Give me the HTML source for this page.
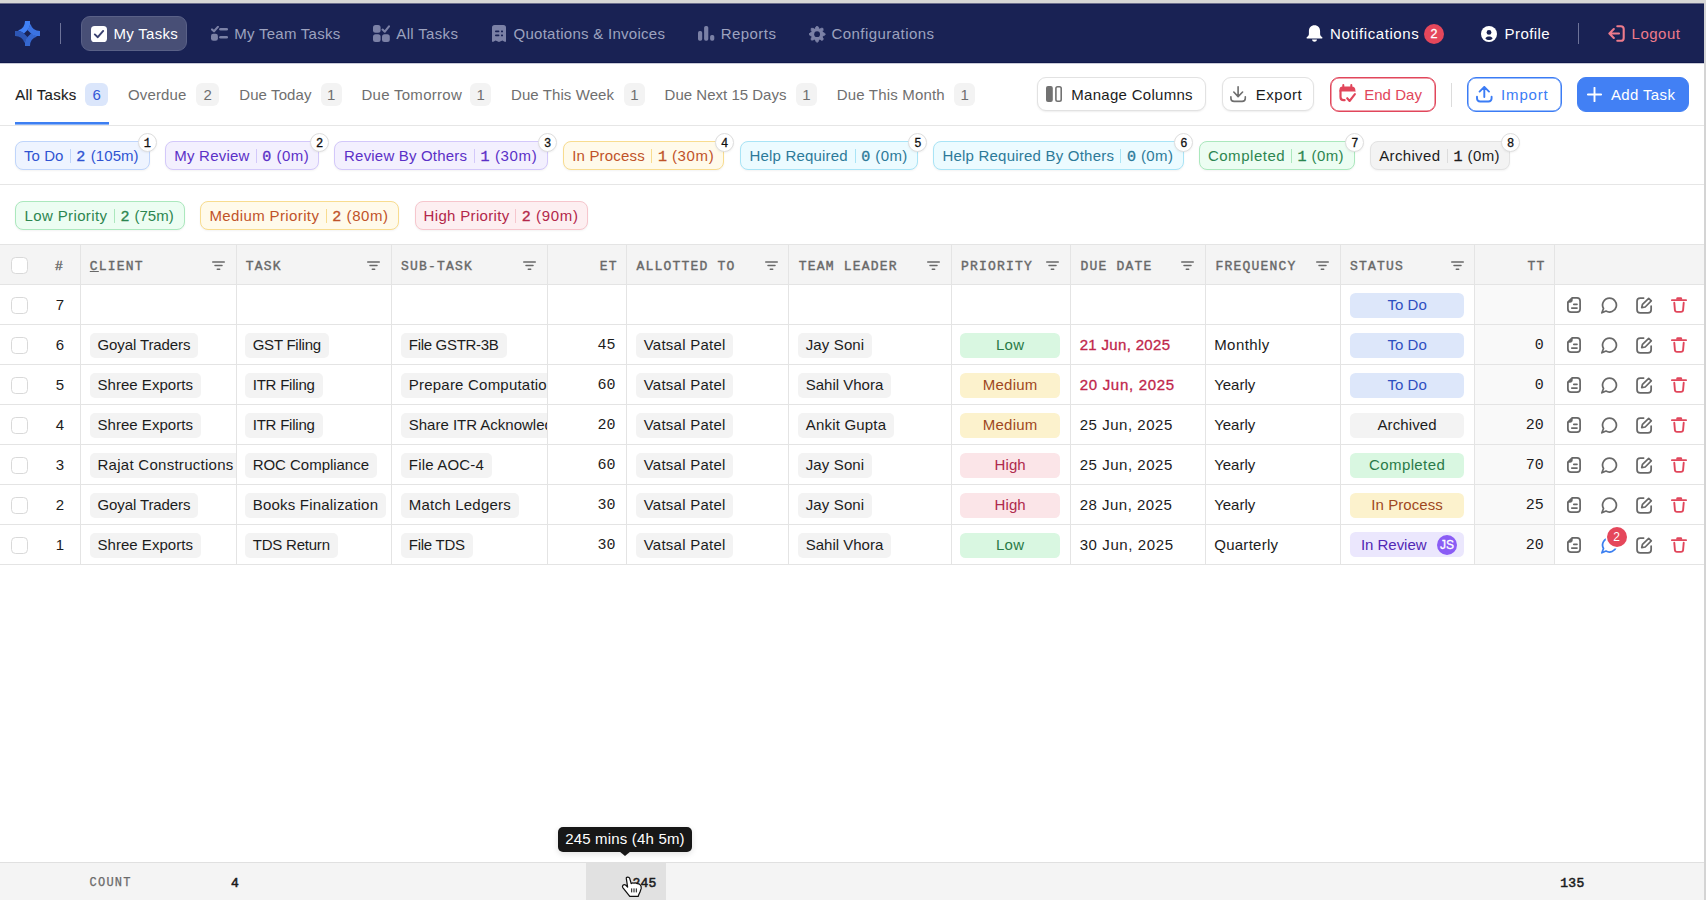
<!DOCTYPE html>
<html lang="en"><head><meta charset="utf-8"><title>My Tasks</title>
<style>
*{box-sizing:border-box;margin:0;padding:0}
html,body{width:1706px;height:900px;overflow:hidden;background:#d4d4d4}
body{font-family:"Liberation Sans",sans-serif;font-size:15px;color:#1c1c1c;position:relative}
.mono{font-family:"Liberation Mono",monospace}
#app{position:absolute;left:0;top:0;width:1704px;height:900px;background:#fff;overflow:hidden}
.abs{position:absolute}
svg{display:block}
.topstrip{position:absolute;left:0;top:0;width:1706px;height:3px;background:#d7d7d6}
.topblend{position:absolute;left:0;top:3px;width:1704px;height:1px;background:#6b6e8c}
nav{position:absolute;left:0;top:4px;width:1704px;height:59px;background:#192254;border-top:1px solid #141c50;border-bottom:1px solid #10184b}
.navblend{position:absolute;left:0;top:63px;width:1704px;height:1px;background:#c9cbd8}
nav .it{position:absolute;top:0;height:57px;line-height:57px;white-space:nowrap;color:#9da2bf}
nav .ic{position:absolute}
nav .vdiv{position:absolute;top:18px;height:21px;width:1px;background:#6d7399}
nav .pill{position:absolute;left:81px;top:11px;width:106px;height:35px;border-radius:9px;background:#484f76;border:1px solid #5a6187}
nav .badge{position:absolute;width:20px;height:20px;border-radius:50%;background:#e5475b;color:#fff;font-size:12.5px;line-height:20px;text-align:center;-webkit-text-stroke:0.3px #fff}
.tabs{position:absolute;left:0;top:64px;width:1704px;height:62px;border-bottom:1px solid #e6e6e6}
.tabs .t{position:absolute;top:0;height:61px;line-height:61px;color:#6f6f6f;white-space:nowrap}
.tabs .t.on{color:#1c1c1c;-webkit-text-stroke:0.15px #1c1c1c}
.tabs .b{position:absolute;top:19px;height:23px;border-radius:6px;background:#f3f3f3;color:#6f6f6f;text-align:center;line-height:23px;font-size:15px}
.tabs .b.on{background:#dbe6fb;color:#3557d6}
.tabs .ul{position:absolute;left:15px;top:58px;width:93.5px;height:3px;background:linear-gradient(#3d7ff2 0,#3d7ff2 2px,#8db4f7 2px,#8db4f7 3px)}
.btn{position:absolute;top:13px;height:34px;border-radius:9px;border:1px solid #e2e2e2;background:#fff;box-shadow:0 1px 2px rgba(0,0,0,.07);white-space:nowrap}
.btn .tx{position:absolute;top:0;line-height:33px}
.btn .ic{position:absolute}
.chips{position:absolute;left:0;width:1704px;height:60px;border-bottom:1px solid #e6e6e6}
.chip{position:absolute;top:16px;height:29px;border-radius:8px;border:1px solid;box-shadow:0 1px 2px rgba(0,0,0,.05);white-space:nowrap}
.chip span{position:absolute;top:0;line-height:27px}
.chip i{position:absolute;top:7px;width:1px;height:14px;display:block}
.chip b{font-weight:400}
.chip .n{font-family:"Liberation Mono",monospace;-webkit-text-stroke:0.35px currentColor;top:1.5px}
.num{position:absolute;width:19px;height:19px;border-radius:50%;background:#fff;border:1px solid #dedede;box-shadow:0 1px 2px rgba(0,0,0,.06);font-family:"Liberation Mono",monospace;font-size:12px;line-height:20px;text-align:center;color:#111;-webkit-text-stroke:0.3px #111}
.c-blue{background:#eef4ff;border-color:#bfd5fb;color:#2f54d2}.c-blue i{background:#bfd5fb}
.c-purple{background:#f3f0fe;border-color:#d3c8fa;color:#5b30c7}.c-purple i{background:#d3c8fa}
.c-amber{background:#fffaea;border-color:#f8dc8f;color:#bf5329}.c-amber i{background:#f8dc8f}
.c-cyan{background:#ecfbff;border-color:#a9e4f6;color:#2c7a99}.c-cyan i{background:#a9e4f6}
.c-green{background:#ecfdf2;border-color:#abe8bd;color:#2c8650}.c-green i{background:#abe8bd}
.c-gray{background:#f3f3f3;border-color:#e3e3e3;color:#1c1c1c}.c-gray i{background:#dcdcdc}
.c-red{background:#fdeff1;border-color:#f6c6cd;color:#b3274a}.c-red i{background:#f6c6cd}
.tbl{position:absolute;left:0;top:244px;width:1704px;border-top:1px solid #e4e4e4}
.tr{position:relative;height:40px;border-bottom:1px solid #e4e4e4;width:1704px}
.th{background:#f4f4f4}
.td{position:absolute;top:0;height:39px;border-left:1px solid #e4e4e4;overflow:hidden;white-space:nowrap;line-height:39px}
.th .td{font-family:"Liberation Mono",monospace;font-size:13px;color:#686868;-webkit-text-stroke:0.4px #686868;line-height:44px}
.th .td span{position:absolute;top:0}
.th .f{position:absolute;top:16px}
.cb{position:absolute;left:11px;top:12px;width:17px;height:17px;border:1px solid #d9d9d9;border-radius:4.5px;background:#fff}
.tag{position:absolute;top:8px;height:24.5px;line-height:24.5px;border-radius:5px;background:#f3f3f3;white-space:nowrap}
.tag span{position:absolute;top:0}
.pl{position:absolute;top:8px;height:25px;line-height:24px;border-radius:5.5px;text-align:center;white-space:nowrap}
.p-low{background:#d9f7e1;color:#2a7a48}
.p-med{background:#fcf2cd;color:#9f481f}
.p-high{background:#fbe5e8;color:#af2a4c}
.s-todo{background:#dde7fa;color:#2f4fc1}
.s-arch{background:#f3f3f3;color:#1c1c1c}
.s-comp{background:#d9f7e1;color:#2a7a48}
.s-proc{background:#fcf2cd;color:#9f481f}
.s-rev{background:#ebe7fd;color:#5228b5}
.num15{font-family:"Liberation Mono",monospace;font-size:15px;line-height:42px}
.ttc{background:#f9f9f9}
.act{position:absolute}
.foot{position:absolute;left:0;top:862px;width:1704px;height:38px;background:#f4f4f4;border-top:1px solid #e0e0e0}
.foot span{position:absolute;top:0;line-height:41px;font-family:"Liberation Mono",monospace;white-space:nowrap}
.foot .fb{font-size:13px;color:#1c1c1c;-webkit-text-stroke:0.55px #1c1c1c}
.tip{position:absolute;left:558px;top:827px;width:134px;height:25px;border-radius:5px;background:#171717;color:#fff;line-height:24px;font-size:15px;white-space:nowrap;box-shadow:0 2px 6px rgba(0,0,0,.12)}
.tip span{position:absolute;top:0}
.tip:after{content:"";position:absolute;left:61px;top:24px;border:6px solid transparent;border-top:5px solid #171717;border-bottom:0}
</style></head>
<body>
<div id="app">
<nav>
<div class="ic" style="left:15px;top:16px"><svg width="25" height="25" viewBox="0 0 25 25" ><path d="M10,0 H15 V4 Q14.6,7 12.5,9 L9,12.5 Q6,10.8 3,9.54 A10,10 0 0 0 10,0 Z" fill="#4080f5" transform="rotate(0 12.5 12.5)"/><path d="M10,0 H15 V4 Q14.6,7 12.5,9 L9,12.5 Q6,10.8 3,9.54 A10,10 0 0 0 10,0 Z" fill="#2d56b4" transform="rotate(-90 12.5 12.5)"/><path d="M10,0 H15 V4 Q14.6,7 12.5,9 L9,12.5 Q6,10.8 3,9.54 A10,10 0 0 0 10,0 Z" fill="#3567cf" transform="rotate(-180 12.5 12.5)"/><path d="M10,0 H15 V4 Q14.6,7 12.5,9 L9,12.5 Q6,10.8 3,9.54 A10,10 0 0 0 10,0 Z" fill="#3b73e2" transform="rotate(-270 12.5 12.5)"/></svg></div>
<div class="vdiv" style="left:60px"></div>
<div class="pill"></div>
<div class="ic" style="left:90.5px;top:20.5px"><svg width="16" height="16" viewBox="0 0 16 16" ><rect width="16" height="16" rx="3.6" fill="#fff"/><path d="M3.8 8.4 L6.8 11.2 L12.2 4.9" fill="none" stroke="#3a4170" stroke-width="1.9" stroke-linecap="round" stroke-linejoin="round"/></svg></div>
<div class="it" style="left:113.5px;color:#fff"><span style="letter-spacing:0.295px;">My Tasks</span></div>
<div class="ic" style="left:211px;top:21.3px"><svg width="17" height="15" viewBox="0 0 17 15" ><path d="M1 3.4 L3 5.3 L6.9 0.9" fill="none" stroke="#7b81a6" stroke-width="2.1" stroke-linecap="round" stroke-linejoin="round"/><rect x="8.2" y="2" width="8.8" height="2.6" rx="1.3" fill="#7b81a6"/><rect x="0" y="7.8" width="6.9" height="7" rx="2.3" fill="#7b81a6"/><rect x="8.2" y="10" width="8.8" height="2.6" rx="1.3" fill="#7b81a6"/></svg></div>
<div class="it" style="left:234.2px"><span style="letter-spacing:0.274px;">My Team Tasks</span></div>
<div class="ic" style="left:373.3px;top:20px"><svg width="17" height="17" viewBox="0 0 17 17" ><rect x="0" y="0" width="7.6" height="7.8" rx="2.5" fill="#7b81a6"/><rect x="0" y="9.2" width="7.6" height="7.8" rx="2.5" fill="#7b81a6"/><rect x="9" y="9.2" width="7.8" height="7.8" rx="2.5" fill="#7b81a6"/><path d="M9.6 4.6 L11.8 6.7 L16 1.4" fill="none" stroke="#7b81a6" stroke-width="2.1" stroke-linecap="round" stroke-linejoin="round"/></svg></div>
<div class="it" style="left:396.3px"><span style="letter-spacing:0.335px;">All Tasks</span></div>
<div class="ic" style="left:492px;top:20px"><svg width="14" height="17" viewBox="0 0 14 17" ><path d="M2.6 0 H11.4 Q14 0 14 2.6 V16.8 L12.6 16.8 L10.4 15.4 L7 16.9 L3.6 15.4 L1.4 16.8 L0 16.8 V2.6 Q0 0 2.6 0 Z" fill="#7b81a6"/><rect x="3" y="5.6" width="4.4" height="1.7" rx="0.8" fill="#192254"/><rect x="9" y="5.6" width="2" height="1.7" rx="0.6" fill="#192254"/><rect x="3" y="9.6" width="4.4" height="1.7" rx="0.8" fill="#192254"/><rect x="9" y="9.6" width="2" height="1.7" rx="0.6" fill="#192254"/></svg></div>
<div class="it" style="left:513.5px"><span style="letter-spacing:0.274px;">Quotations &amp; Invoices</span></div>
<div class="ic" style="left:697.7px;top:21px"><svg width="17" height="15" viewBox="0 0 17 15" ><rect x="0" y="5" width="4.2" height="9.8" rx="1.7" fill="#7b81a6"/><rect x="6.1" y="0" width="4.2" height="14.8" rx="1.7" fill="#7b81a6"/><rect x="12.1" y="9.1" width="4.2" height="5.7" rx="1.7" fill="#7b81a6"/></svg></div>
<div class="it" style="left:720.8px"><span style="letter-spacing:0.428px;">Reports</span></div>
<div class="ic" style="left:809px;top:20.5px"><svg width="17" height="17" viewBox="0 0 17 17" ><path d="M6.6 1.2 L8.1 -0.1 L9.6 1.2 V15 L8.1 16.5 L6.6 15 Z" fill="#7b81a6" stroke="#7b81a6" stroke-width="0.8" stroke-linejoin="round" transform="rotate(0 8.1 8.2)"/><path d="M6.6 1.2 L8.1 -0.1 L9.6 1.2 V15 L8.1 16.5 L6.6 15 Z" fill="#7b81a6" stroke="#7b81a6" stroke-width="0.8" stroke-linejoin="round" transform="rotate(45 8.1 8.2)"/><path d="M6.6 1.2 L8.1 -0.1 L9.6 1.2 V15 L8.1 16.5 L6.6 15 Z" fill="#7b81a6" stroke="#7b81a6" stroke-width="0.8" stroke-linejoin="round" transform="rotate(90 8.1 8.2)"/><path d="M6.6 1.2 L8.1 -0.1 L9.6 1.2 V15 L8.1 16.5 L6.6 15 Z" fill="#7b81a6" stroke="#7b81a6" stroke-width="0.8" stroke-linejoin="round" transform="rotate(135 8.1 8.2)"/><circle cx="8.1" cy="8.2" r="6.2" fill="#7b81a6"/><circle cx="8.1" cy="8.2" r="2.9" fill="#192254"/></svg></div>
<div class="it" style="left:831.4px"><span style="letter-spacing:0.459px;">Configurations</span></div>
<div class="ic" style="left:1306.2px;top:20px"><svg width="17" height="17" viewBox="0 0 17 17" ><path d="M8.5 0.3 C5 0.3 2.9 2.9 2.9 6.2 V9 C2.9 10.4 2 11.2 1 12 C0.2 12.6 0.5 13.6 1.5 13.6 H15.5 C16.5 13.6 16.8 12.6 16 12 C15 11.2 14.1 10.4 14.1 9 V6.2 C14.1 2.9 12 0.3 8.5 0.3 Z" fill="#fff"/><path d="M6 14.6 H11 C10.7 16 9.8 16.8 8.5 16.8 C7.2 16.8 6.3 16 6 14.6 Z" fill="#fff"/></svg></div>
<div class="it" style="left:1330px;color:#fff"><span style="letter-spacing:0.583px;">Notifications</span></div>
<div class="badge" style="left:1424px;top:18.6px">2</div>
<div class="ic" style="left:1481.4px;top:20.5px"><svg width="16" height="16" viewBox="0 0 16 16" ><circle cx="8" cy="8" r="8" fill="#fff"/><circle cx="8" cy="6.4" r="2.4" fill="#192254"/><path d="M4.4 12.4 C5 11 6.3 10.5 8 10.5 C9.7 10.5 11 11 11.6 12.4 C10.6 13.4 9.4 13.9 8 13.9 C6.6 13.9 5.4 13.4 4.4 12.4 Z" fill="#192254"/></svg></div>
<div class="it" style="left:1504.5px;color:#fff"><span style="letter-spacing:0.445px;">Profile</span></div>
<div class="vdiv" style="left:1578px"></div>
<div class="ic" style="left:1608.2px;top:20px"><svg width="17" height="17" viewBox="0 0 17 17" ><path d="M9.3 1.2 H12.8 Q15.7 1.2 15.7 4.1 V12.9 Q15.7 15.8 12.8 15.8 H9.3" fill="none" stroke="#ee7b8b" stroke-width="2.1" stroke-linecap="round"/><path d="M11 8.5 H1.8 M5.8 4.1 L1.4 8.5 L5.8 12.9" fill="none" stroke="#ee7b8b" stroke-width="2.1" stroke-linecap="round" stroke-linejoin="round"/></svg></div>
<div class="it" style="left:1631.6px;color:#ee7b8b"><span style="letter-spacing:0.482px;">Logout</span></div>
</nav>
<div class="navblend"></div>
<div class="tabs">
<div class="t on" style="left:15.2px"><span style="letter-spacing:0.272px;">All Tasks</span></div>
<div class="b on" style="left:85px;width:23.4px">6</div>
<div class="t" style="left:127.9px"><span style="letter-spacing:0.159px;">Overdue</span></div>
<div class="b" style="left:196px;width:23.3px">2</div>
<div class="t" style="left:239.2px"><span style="letter-spacing:0.106px;">Due Today</span></div>
<div class="b" style="left:320.9px;width:20.8px">1</div>
<div class="t" style="left:361.4px"><span style="letter-spacing:0.285px;">Due Tomorrow</span></div>
<div class="b" style="left:470.4px;width:20.8px">1</div>
<div class="t" style="left:511px"><span style="letter-spacing:0.083px;">Due This Week</span></div>
<div class="b" style="left:624px;width:20.8px">1</div>
<div class="t" style="left:664.6px"><span style="letter-spacing:0.011px;">Due Next 15 Days</span></div>
<div class="b" style="left:796px;width:20.9px">1</div>
<div class="t" style="left:836.7px"><span style="letter-spacing:0.184px;">Due This Month</span></div>
<div class="b" style="left:954.3px;width:20.9px">1</div>
<div class="ul"></div>
<div class="btn" style="left:1037px;width:168.5px;"><div class="ic" style="left:8px;top:8px"><svg width="16" height="16" viewBox="0 0 16 16" ><rect x="0" y="0" width="6.8" height="16" rx="2" fill="#727272"/><rect x="9.9" y="0.8" width="5.3" height="14.4" rx="1.7" fill="none" stroke="#727272" stroke-width="1.6"/></svg></div><div class="tx" style="left:33.299999999999955px;color:#1c1c1c"><span style="letter-spacing:0.287px;">Manage Columns</span></div></div>
<div class="btn" style="left:1221.5px;width:92.5px;"><div class="ic" style="left:7.7999999999999545px;top:7.5px"><svg width="17" height="17" viewBox="0 0 17 17" ><path d="M8.1 0.8 V10.6 M3.8 6 L8.1 10.6 L12.6 6" fill="none" stroke="#6e6e6e" stroke-width="1.6" stroke-linecap="round" stroke-linejoin="round"/><path d="M0.9 10.8 V12.2 Q0.9 15.4 4.1 15.4 H12.1 Q15.3 15.4 15.3 12.2 V10.8" fill="none" stroke="#6e6e6e" stroke-width="1.6" stroke-linecap="round"/></svg></div><div class="tx" style="left:33.299999999999955px;color:#1c1c1c"><span style="letter-spacing:0.508px;">Export</span></div></div>
<div class="btn" style="left:1329.5px;width:106.5px;border-color:#e1465b;box-shadow:inset 0 0 0 0.5px #e1465b;height:35px"><div class="ic" style="left:8.099999999999909px;top:6px"><svg width="18" height="19" viewBox="0 0 18 19" ><path d="M3.8 2.6 H12.6 Q16.4 2.6 16.4 6.4 V7.9 L15.6 7.4 H0.4 V6 Q0.4 2.6 3.8 2.6 Z" fill="#e1465b"/><path d="M4.3 1 V3.4 M12.3 1 V3.4" stroke="#e1465b" stroke-width="2" stroke-linecap="round"/><path d="M1.5 7 V13 Q1.5 16.2 4.7 16.2 H5.6" fill="none" stroke="#e1465b" stroke-width="2.2" stroke-linecap="round"/><path d="M8.2 14.2 L10.6 17 L15.9 10.2" fill="none" stroke="#e1465b" stroke-width="2.1" stroke-linecap="round" stroke-linejoin="round"/></svg></div><div class="tx" style="left:33.700000000000045px;color:#e1465b"><span style="letter-spacing:0.026px;">End Day</span></div></div>
<div class="abs" style="left:1450.5px;top:18.5px;width:1.5px;height:24px;background:#dcdcdc"></div>
<div class="btn" style="left:1467px;width:94.5px;border-color:#3b7cf5;box-shadow:inset 0 0 0 0.5px #3b7cf5;height:35px"><div class="ic" style="left:8px;top:7.5px"><svg width="17" height="17" viewBox="0 0 17 17" ><path d="M8.3 11 V1.2 M3.6 5.6 L8.3 0.9 L13 5.6" fill="none" stroke="#3b7cf5" stroke-width="1.9" stroke-linecap="round" stroke-linejoin="round"/><path d="M1 10.8 V12.3 Q1 15.5 4.2 15.5 H12.4 Q15.6 15.5 15.6 12.3 V10.8" fill="none" stroke="#3b7cf5" stroke-width="1.9" stroke-linecap="round"/></svg></div><div class="tx" style="left:33.09999999999991px;color:#3b7cf5"><span style="letter-spacing:0.817px;">Import</span></div></div>
<div class="btn" style="left:1577px;width:112px;border-color:#4280f4;background:#4280f4;box-shadow:none;height:35px"><div class="ic" style="left:8.599999999999909px;top:8.5px"><svg width="15" height="15" viewBox="0 0 15 15" ><path d="M7.5 0.8 V14.2 M0.8 7.5 H14.2" stroke="#fff" stroke-width="1.9" stroke-linecap="round"/></svg></div><div class="tx" style="left:32.90000000000009px;color:#fff"><span style="letter-spacing:0.366px;">Add Task</span></div></div>
</div>
<div class="chips" style="top:125px">
<div class="chip c-blue" style="left:15px;width:134.5px"><span style="letter-spacing:0.028px;left:8.100000000000001px">To Do</span><i style="left:53.8px"></i><span class="n" style="left:60.199999999999996px">2</span><span style="letter-spacing:0.057px;left:74.8px">(105m)</span></div><div class="num" style="left:137.8px;top:8px">1</div>
<div class="chip c-purple" style="left:165px;width:153.7px"><span style="letter-spacing:0.218px;left:8.300000000000011px">My Review</span><i style="left:89.89999999999998px"></i><span class="n" style="left:96.29999999999998px">0</span><span style="letter-spacing:0.424px;left:110.60000000000002px">(0m)</span></div><div class="num" style="left:310.0px;top:8px">2</div>
<div class="chip c-purple" style="left:334.2px;width:213.6px"><span style="letter-spacing:0.19px;left:8.900000000000034px">Review By Others</span><i style="left:138.8px"></i><span class="n" style="left:145.20000000000002px">1</span><span style="letter-spacing:0.632px;left:159.8px">(30m)</span></div><div class="num" style="left:538.2px;top:8px">3</div>
<div class="chip c-amber" style="left:562.8px;width:161.6px"><span style="letter-spacing:0.181px;left:8.400000000000091px">In Process</span><i style="left:87.30000000000007px"></i><span class="n" style="left:94.10000000000005px">1</span><span style="letter-spacing:0.632px;left:108.20000000000005px">(30m)</span></div><div class="num" style="left:715.1px;top:8px">4</div>
<div class="chip c-cyan" style="left:740px;width:177.8px"><span style="letter-spacing:0.167px;left:8.600000000000023px">Help Required</span><i style="left:113.70000000000005px"></i><span class="n" style="left:120.29999999999998px">0</span><span style="letter-spacing:0.391px;left:134.29999999999995px">(0m)</span></div><div class="num" style="left:908.3px;top:8px">5</div>
<div class="chip c-cyan" style="left:933.2px;width:250.6px"><span style="letter-spacing:0.22px;left:8.199999999999932px">Help Required By Others</span><i style="left:186.0999999999999px"></i><span class="n" style="left:192.69999999999996px">0</span><span style="letter-spacing:0.391px;left:206.70000000000005px">(0m)</span></div><div class="num" style="left:1174.3px;top:8px">6</div>
<div class="chip c-green" style="left:1199.2px;width:155.6px"><span style="letter-spacing:0.532px;left:7.7000000000000455px">Completed</span><i style="left:90.89999999999986px"></i><span class="n" style="left:97.29999999999987px">1</span><span style="letter-spacing:0.424px;left:111.29999999999995px">(0m)</span></div><div class="num" style="left:1345.3px;top:8px">7</div>
<div class="chip c-gray" style="left:1370.1px;width:140px"><span style="letter-spacing:0.349px;left:8.100000000000136px">Archived</span><i style="left:75.90000000000009px"></i><span class="n" style="left:82.3000000000001px">1</span><span style="letter-spacing:0.357px;left:96.5px">(0m)</span></div><div class="num" style="left:1501.0px;top:8px">8</div>
</div>
<div class="chips" style="top:185px;border-bottom:0">
<div class="chip c-green" style="left:15px;width:169.5px"><span style="letter-spacing:0.376px;left:8.5px">Low Priority</span><i style="left:97.8px"></i><span class="n" style="left:104.4px">2</span><span style="letter-spacing:0.057px;left:118.4px">(75m)</span></div>
<div class="chip c-amber" style="left:199.8px;width:199px"><span style="letter-spacing:0.379px;left:8.599999999999994px">Medium Priority</span><i style="left:124.80000000000001px"></i><span class="n" style="left:131.4px">2</span><span style="letter-spacing:0.582px;left:145.8px">(80m)</span></div>
<div class="chip c-red" style="left:414.5px;width:173.8px"><span style="letter-spacing:0.326px;left:8.100000000000023px">High Priority</span><i style="left:99.70000000000005px"></i><span class="n" style="left:106.19999999999996px">2</span><span style="letter-spacing:0.657px;left:120.60000000000002px">(90m)</span></div>
</div>
<div class="tbl">
<div class="tr th"><div class="td" style="left:0px;width:80px;border-left:0"><div class="cb"></div><span style="left:55px">#</span></div><div class="td" style="left:80px;width:156px"><span style="left:8.8px;letter-spacing:1.2px"><u>C</u>LIENT</span><div class="f" style="left:130.6px"><svg width="13" height="9" viewBox="0 0 13 9" ><path d="M0.7 1 H12.3 M3 4.6 H10 M5.3 8.2 H7.7" stroke="#686868" stroke-width="1.5" stroke-linecap="round"/></svg></div></div><div class="td" style="left:236px;width:155px"><span style="left:8.8px;letter-spacing:1.2px">TASK</span><div class="f" style="left:130.09999999999997px"><svg width="13" height="9" viewBox="0 0 13 9" ><path d="M0.7 1 H12.3 M3 4.6 H10 M5.3 8.2 H7.7" stroke="#686868" stroke-width="1.5" stroke-linecap="round"/></svg></div></div><div class="td" style="left:391px;width:156px"><span style="left:8.9px;letter-spacing:1.2px">SUB-TASK</span><div class="f" style="left:130.59999999999997px"><svg width="13" height="9" viewBox="0 0 13 9" ><path d="M0.7 1 H12.3 M3 4.6 H10 M5.3 8.2 H7.7" stroke="#686868" stroke-width="1.5" stroke-linecap="round"/></svg></div></div><div class="td" style="left:547px;width:79px"><span style="left:51.7px;letter-spacing:1.2px">ET</span></div><div class="td" style="left:626px;width:162px"><span style="left:9.6px;letter-spacing:1.2px">ALLOTTED TO</span><div class="f" style="left:137.7px"><svg width="13" height="9" viewBox="0 0 13 9" ><path d="M0.7 1 H12.3 M3 4.6 H10 M5.3 8.2 H7.7" stroke="#686868" stroke-width="1.5" stroke-linecap="round"/></svg></div></div><div class="td" style="left:788px;width:163px"><span style="left:9.8px;letter-spacing:1.2px">TEAM LEADER</span><div class="f" style="left:138.09999999999997px"><svg width="13" height="9" viewBox="0 0 13 9" ><path d="M0.7 1 H12.3 M3 4.6 H10 M5.3 8.2 H7.7" stroke="#686868" stroke-width="1.5" stroke-linecap="round"/></svg></div></div><div class="td" style="left:951px;width:119px"><span style="left:8.9px;letter-spacing:1.2px">PRIORITY</span><div class="f" style="left:94.40000000000005px"><svg width="13" height="9" viewBox="0 0 13 9" ><path d="M0.7 1 H12.3 M3 4.6 H10 M5.3 8.2 H7.7" stroke="#686868" stroke-width="1.5" stroke-linecap="round"/></svg></div></div><div class="td" style="left:1070px;width:135px"><span style="left:9.4px;letter-spacing:1.2px">DUE DATE</span><div class="f" style="left:109.99999999999996px"><svg width="13" height="9" viewBox="0 0 13 9" ><path d="M0.7 1 H12.3 M3 4.6 H10 M5.3 8.2 H7.7" stroke="#686868" stroke-width="1.5" stroke-linecap="round"/></svg></div></div><div class="td" style="left:1205px;width:135px"><span style="left:9.4px;letter-spacing:1.2px">FREQUENCY</span><div class="f" style="left:109.49999999999996px"><svg width="13" height="9" viewBox="0 0 13 9" ><path d="M0.7 1 H12.3 M3 4.6 H10 M5.3 8.2 H7.7" stroke="#686868" stroke-width="1.5" stroke-linecap="round"/></svg></div></div><div class="td" style="left:1340px;width:134px"><span style="left:9.1px;letter-spacing:1.2px">STATUS</span><div class="f" style="left:109.49999999999996px"><svg width="13" height="9" viewBox="0 0 13 9" ><path d="M0.7 1 H12.3 M3 4.6 H10 M5.3 8.2 H7.7" stroke="#686868" stroke-width="1.5" stroke-linecap="round"/></svg></div></div><div class="td" style="left:1474px;width:80px"><span style="left:52.5px;letter-spacing:1.2px">TT</span></div><div class="td" style="left:1554px;width:150px"></div></div>
<div class="tr"><div class="td" style="left:0px;width:80px;border-left:0"><div class="cb"></div><span class="abs" style="left:40px;width:40px;text-align:center">7</span></div><div class="td" style="left:80px;width:156px"></div><div class="td" style="left:236px;width:155px"></div><div class="td" style="left:391px;width:156px"></div><div class="td" style="left:547px;width:79px"><span class="abs num15" style="right:10.4px"></span></div><div class="td" style="left:626px;width:162px"></div><div class="td" style="left:788px;width:163px"></div><div class="td" style="left:951px;width:119px"></div><div class="td" style="left:1070px;width:135px"></div><div class="td" style="left:1205px;width:135px"></div><div class="td" style="left:1340px;width:134px"><div class="pl s-todo" style="left:8.8px;width:114.6px"><span style="letter-spacing:0.028px;">To Do</span></div></div><div class="td ttc" style="left:1474px;width:80px"><span class="abs num15" style="right:10.2px"></span></div><div class="td" style="left:1554px;width:150px"><div class="act" style="left:12.1px;top:12.2px"><svg width="14" height="16" viewBox="0 0 14 16" ><path d="M5.2 0.9 H10 Q13.1 0.9 13.1 4 V12 Q13.1 15.1 10 15.1 H4 Q0.9 15.1 0.9 12 V5.2 Z" fill="none" stroke="#686868" stroke-width="1.75" stroke-linejoin="round"/><path d="M0.9 5.2 L5.2 0.9 V3.6 Q5.2 5.2 3.6 5.2 Z" fill="#686868" stroke="#686868" stroke-width="0.9" stroke-linejoin="round"/><path d="M6.8 7.3 H10 M4.8 11.1 H10" stroke="#686868" stroke-width="1.7" stroke-linecap="round"/></svg></div><div class="act" style="left:45.8px;top:12px"><svg width="17" height="17" viewBox="0 0 17 17" ><path d="M8.5 1.2 A6.9 6.9 0 1 1 5 14.05 L0.9 15.8 L2.5 11.55 A6.9 6.9 0 0 1 8.5 1.2 Z" fill="none" stroke="#686868" stroke-width="1.75" stroke-linejoin="round"/></svg></div><div class="act" style="left:81.0px;top:11.9px"><svg width="17" height="17" viewBox="0 0 17 17" ><path d="M7.6 1.05 H4.2 Q1.05 1.05 1.05 4.2 V12.8 Q1.05 15.95 4.2 15.95 H12 Q15.15 15.95 15.15 12.8 V9.2" fill="none" stroke="#686868" stroke-width="1.75" stroke-linecap="round"/><path d="M12.7 1.3 L15.3 3.9 L9.2 10 L5.7 10.6 L6.5 7.3 Z" fill="none" stroke="#686868" stroke-width="1.7" stroke-linejoin="round"/></svg></div><div class="act" style="left:115.9px;top:12.2px"><svg width="16" height="17" viewBox="0 0 16 17" ><path d="M0.85 3.2 H15.15" stroke="#e1465b" stroke-width="1.7" stroke-linecap="round"/><path d="M5.3 2.8 V1.4 Q5.3 0.2 6.5 0.2 H9.9 Q11.1 0.2 11.1 1.4 V2.8 Z" fill="#e1465b"/><path d="M3.3 5.8 L3.9 13 Q4.1 14.9 6 14.9 H10 Q11.9 14.9 12.1 13 L12.7 5.8" fill="none" stroke="#e1465b" stroke-width="1.9" stroke-linecap="round" stroke-linejoin="round"/></svg></div></div></div>
<div class="tr"><div class="td" style="left:0px;width:80px;border-left:0"><div class="cb"></div><span class="abs" style="left:40px;width:40px;text-align:center">6</span></div><div class="td" style="left:80px;width:156px"><div class="tag" style="left:9.0px;width:108.3px"><span style="letter-spacing:-0.102px;left:7.5px">Goyal Traders</span></div></div><div class="td" style="left:236px;width:155px"><div class="tag" style="left:8.2px;width:83.7px"><span style="letter-spacing:-0.242px;left:7.5px">GST Filing</span></div></div><div class="td" style="left:391px;width:156px"><div class="tag" style="left:9.3px;width:105.3px"><span style="letter-spacing:-0.305px;left:7.5px">File GSTR-3B</span></div></div><div class="td" style="left:547px;width:79px"><span class="abs num15" style="right:10.4px">45</span></div><div class="td" style="left:626px;width:162px"><div class="tag" style="left:9.2px;width:97.0px"><span style="letter-spacing:0.251px;left:7.5px">Vatsal Patel</span></div></div><div class="td" style="left:788px;width:163px"><div class="tag" style="left:9.2px;width:73.8px"><span style="letter-spacing:0.136px;left:7.5px">Jay Soni</span></div></div><div class="td" style="left:951px;width:119px"><div class="pl p-low" style="left:8.3px;width:99.7px"><span style="letter-spacing:0.284px;">Low</span></div></div><div class="td" style="left:1070px;width:135px"><span style="letter-spacing:0.323px;position:absolute;left:8.700000000000045px;color:#c0264b;-webkit-text-stroke:0.3px #c0264b;">21 Jun, 2025</span></div><div class="td" style="left:1205px;width:135px"><span style="letter-spacing:0.428px;position:absolute;left:8.200000000000045px">Monthly</span></div><div class="td" style="left:1340px;width:134px"><div class="pl s-todo" style="left:8.8px;width:114.6px"><span style="letter-spacing:0.028px;">To Do</span></div></div><div class="td ttc" style="left:1474px;width:80px"><span class="abs num15" style="right:10.2px">0</span></div><div class="td" style="left:1554px;width:150px"><div class="act" style="left:12.1px;top:12.2px"><svg width="14" height="16" viewBox="0 0 14 16" ><path d="M5.2 0.9 H10 Q13.1 0.9 13.1 4 V12 Q13.1 15.1 10 15.1 H4 Q0.9 15.1 0.9 12 V5.2 Z" fill="none" stroke="#686868" stroke-width="1.75" stroke-linejoin="round"/><path d="M0.9 5.2 L5.2 0.9 V3.6 Q5.2 5.2 3.6 5.2 Z" fill="#686868" stroke="#686868" stroke-width="0.9" stroke-linejoin="round"/><path d="M6.8 7.3 H10 M4.8 11.1 H10" stroke="#686868" stroke-width="1.7" stroke-linecap="round"/></svg></div><div class="act" style="left:45.8px;top:12px"><svg width="17" height="17" viewBox="0 0 17 17" ><path d="M8.5 1.2 A6.9 6.9 0 1 1 5 14.05 L0.9 15.8 L2.5 11.55 A6.9 6.9 0 0 1 8.5 1.2 Z" fill="none" stroke="#686868" stroke-width="1.75" stroke-linejoin="round"/></svg></div><div class="act" style="left:81.0px;top:11.9px"><svg width="17" height="17" viewBox="0 0 17 17" ><path d="M7.6 1.05 H4.2 Q1.05 1.05 1.05 4.2 V12.8 Q1.05 15.95 4.2 15.95 H12 Q15.15 15.95 15.15 12.8 V9.2" fill="none" stroke="#686868" stroke-width="1.75" stroke-linecap="round"/><path d="M12.7 1.3 L15.3 3.9 L9.2 10 L5.7 10.6 L6.5 7.3 Z" fill="none" stroke="#686868" stroke-width="1.7" stroke-linejoin="round"/></svg></div><div class="act" style="left:115.9px;top:12.2px"><svg width="16" height="17" viewBox="0 0 16 17" ><path d="M0.85 3.2 H15.15" stroke="#e1465b" stroke-width="1.7" stroke-linecap="round"/><path d="M5.3 2.8 V1.4 Q5.3 0.2 6.5 0.2 H9.9 Q11.1 0.2 11.1 1.4 V2.8 Z" fill="#e1465b"/><path d="M3.3 5.8 L3.9 13 Q4.1 14.9 6 14.9 H10 Q11.9 14.9 12.1 13 L12.7 5.8" fill="none" stroke="#e1465b" stroke-width="1.9" stroke-linecap="round" stroke-linejoin="round"/></svg></div></div></div>
<div class="tr"><div class="td" style="left:0px;width:80px;border-left:0"><div class="cb"></div><span class="abs" style="left:40px;width:40px;text-align:center">5</span></div><div class="td" style="left:80px;width:156px"><div class="tag" style="left:9.0px;width:110.7px"><span style="letter-spacing:0.029px;left:7.5px">Shree Exports</span></div></div><div class="td" style="left:236px;width:155px"><div class="tag" style="left:8.2px;width:77.5px"><span style="letter-spacing:-0.221px;left:7.5px">ITR Filing</span></div></div><div class="td" style="left:391px;width:156px"><div class="tag" style="left:9.3px;width:400.0px"><span style="letter-spacing:0.215px;left:7.5px">Prepare Computation of Income</span></div></div><div class="td" style="left:547px;width:79px"><span class="abs num15" style="right:10.4px">60</span></div><div class="td" style="left:626px;width:162px"><div class="tag" style="left:9.2px;width:97.0px"><span style="letter-spacing:0.251px;left:7.5px">Vatsal Patel</span></div></div><div class="td" style="left:788px;width:163px"><div class="tag" style="left:9.2px;width:92.9px"><span style="left:7.5px">Sahil Vhora</span></div></div><div class="td" style="left:951px;width:119px"><div class="pl p-med" style="left:8.3px;width:99.7px"><span style="letter-spacing:0.208px;">Medium</span></div></div><div class="td" style="left:1070px;width:135px"><span style="letter-spacing:0.705px;position:absolute;left:8.700000000000045px;color:#c0264b;-webkit-text-stroke:0.3px #c0264b;">20 Jun, 2025</span></div><div class="td" style="left:1205px;width:135px"><span style="letter-spacing:-0.028px;position:absolute;left:8.200000000000045px">Yearly</span></div><div class="td" style="left:1340px;width:134px"><div class="pl s-todo" style="left:8.8px;width:114.6px"><span style="letter-spacing:0.028px;">To Do</span></div></div><div class="td ttc" style="left:1474px;width:80px"><span class="abs num15" style="right:10.2px">0</span></div><div class="td" style="left:1554px;width:150px"><div class="act" style="left:12.1px;top:12.2px"><svg width="14" height="16" viewBox="0 0 14 16" ><path d="M5.2 0.9 H10 Q13.1 0.9 13.1 4 V12 Q13.1 15.1 10 15.1 H4 Q0.9 15.1 0.9 12 V5.2 Z" fill="none" stroke="#686868" stroke-width="1.75" stroke-linejoin="round"/><path d="M0.9 5.2 L5.2 0.9 V3.6 Q5.2 5.2 3.6 5.2 Z" fill="#686868" stroke="#686868" stroke-width="0.9" stroke-linejoin="round"/><path d="M6.8 7.3 H10 M4.8 11.1 H10" stroke="#686868" stroke-width="1.7" stroke-linecap="round"/></svg></div><div class="act" style="left:45.8px;top:12px"><svg width="17" height="17" viewBox="0 0 17 17" ><path d="M8.5 1.2 A6.9 6.9 0 1 1 5 14.05 L0.9 15.8 L2.5 11.55 A6.9 6.9 0 0 1 8.5 1.2 Z" fill="none" stroke="#686868" stroke-width="1.75" stroke-linejoin="round"/></svg></div><div class="act" style="left:81.0px;top:11.9px"><svg width="17" height="17" viewBox="0 0 17 17" ><path d="M7.6 1.05 H4.2 Q1.05 1.05 1.05 4.2 V12.8 Q1.05 15.95 4.2 15.95 H12 Q15.15 15.95 15.15 12.8 V9.2" fill="none" stroke="#686868" stroke-width="1.75" stroke-linecap="round"/><path d="M12.7 1.3 L15.3 3.9 L9.2 10 L5.7 10.6 L6.5 7.3 Z" fill="none" stroke="#686868" stroke-width="1.7" stroke-linejoin="round"/></svg></div><div class="act" style="left:115.9px;top:12.2px"><svg width="16" height="17" viewBox="0 0 16 17" ><path d="M0.85 3.2 H15.15" stroke="#e1465b" stroke-width="1.7" stroke-linecap="round"/><path d="M5.3 2.8 V1.4 Q5.3 0.2 6.5 0.2 H9.9 Q11.1 0.2 11.1 1.4 V2.8 Z" fill="#e1465b"/><path d="M3.3 5.8 L3.9 13 Q4.1 14.9 6 14.9 H10 Q11.9 14.9 12.1 13 L12.7 5.8" fill="none" stroke="#e1465b" stroke-width="1.9" stroke-linecap="round" stroke-linejoin="round"/></svg></div></div></div>
<div class="tr"><div class="td" style="left:0px;width:80px;border-left:0"><div class="cb"></div><span class="abs" style="left:40px;width:40px;text-align:center">4</span></div><div class="td" style="left:80px;width:156px"><div class="tag" style="left:9.0px;width:110.7px"><span style="letter-spacing:0.029px;left:7.5px">Shree Exports</span></div></div><div class="td" style="left:236px;width:155px"><div class="tag" style="left:8.2px;width:77.5px"><span style="letter-spacing:-0.221px;left:7.5px">ITR Filing</span></div></div><div class="td" style="left:391px;width:156px"><div class="tag" style="left:9.3px;width:400.0px"><span style="letter-spacing:-0.012px;left:7.5px">Share ITR Acknowledgement</span></div></div><div class="td" style="left:547px;width:79px"><span class="abs num15" style="right:10.4px">20</span></div><div class="td" style="left:626px;width:162px"><div class="tag" style="left:9.2px;width:97.0px"><span style="letter-spacing:0.251px;left:7.5px">Vatsal Patel</span></div></div><div class="td" style="left:788px;width:163px"><div class="tag" style="left:9.2px;width:95.7px"><span style="letter-spacing:0.201px;left:7.5px">Ankit Gupta</span></div></div><div class="td" style="left:951px;width:119px"><div class="pl p-med" style="left:8.3px;width:99.7px"><span style="letter-spacing:0.208px;">Medium</span></div></div><div class="td" style="left:1070px;width:135px"><span style="letter-spacing:0.532px;position:absolute;left:8.700000000000045px;">25 Jun, 2025</span></div><div class="td" style="left:1205px;width:135px"><span style="letter-spacing:-0.028px;position:absolute;left:8.200000000000045px">Yearly</span></div><div class="td" style="left:1340px;width:134px"><div class="pl s-arch" style="left:8.8px;width:114.6px"><span style="letter-spacing:0.106px;">Archived</span></div></div><div class="td ttc" style="left:1474px;width:80px"><span class="abs num15" style="right:10.2px">20</span></div><div class="td" style="left:1554px;width:150px"><div class="act" style="left:12.1px;top:12.2px"><svg width="14" height="16" viewBox="0 0 14 16" ><path d="M5.2 0.9 H10 Q13.1 0.9 13.1 4 V12 Q13.1 15.1 10 15.1 H4 Q0.9 15.1 0.9 12 V5.2 Z" fill="none" stroke="#686868" stroke-width="1.75" stroke-linejoin="round"/><path d="M0.9 5.2 L5.2 0.9 V3.6 Q5.2 5.2 3.6 5.2 Z" fill="#686868" stroke="#686868" stroke-width="0.9" stroke-linejoin="round"/><path d="M6.8 7.3 H10 M4.8 11.1 H10" stroke="#686868" stroke-width="1.7" stroke-linecap="round"/></svg></div><div class="act" style="left:45.8px;top:12px"><svg width="17" height="17" viewBox="0 0 17 17" ><path d="M8.5 1.2 A6.9 6.9 0 1 1 5 14.05 L0.9 15.8 L2.5 11.55 A6.9 6.9 0 0 1 8.5 1.2 Z" fill="none" stroke="#686868" stroke-width="1.75" stroke-linejoin="round"/></svg></div><div class="act" style="left:81.0px;top:11.9px"><svg width="17" height="17" viewBox="0 0 17 17" ><path d="M7.6 1.05 H4.2 Q1.05 1.05 1.05 4.2 V12.8 Q1.05 15.95 4.2 15.95 H12 Q15.15 15.95 15.15 12.8 V9.2" fill="none" stroke="#686868" stroke-width="1.75" stroke-linecap="round"/><path d="M12.7 1.3 L15.3 3.9 L9.2 10 L5.7 10.6 L6.5 7.3 Z" fill="none" stroke="#686868" stroke-width="1.7" stroke-linejoin="round"/></svg></div><div class="act" style="left:115.9px;top:12.2px"><svg width="16" height="17" viewBox="0 0 16 17" ><path d="M0.85 3.2 H15.15" stroke="#e1465b" stroke-width="1.7" stroke-linecap="round"/><path d="M5.3 2.8 V1.4 Q5.3 0.2 6.5 0.2 H9.9 Q11.1 0.2 11.1 1.4 V2.8 Z" fill="#e1465b"/><path d="M3.3 5.8 L3.9 13 Q4.1 14.9 6 14.9 H10 Q11.9 14.9 12.1 13 L12.7 5.8" fill="none" stroke="#e1465b" stroke-width="1.9" stroke-linecap="round" stroke-linejoin="round"/></svg></div></div></div>
<div class="tr"><div class="td" style="left:0px;width:80px;border-left:0"><div class="cb"></div><span class="abs" style="left:40px;width:40px;text-align:center">3</span></div><div class="td" style="left:80px;width:156px"><div class="tag" style="left:9.0px;width:151.1px"><span style="letter-spacing:0.272px;left:7.5px">Rajat Constructions</span></div></div><div class="td" style="left:236px;width:155px"><div class="tag" style="left:8.2px;width:131.6px"><span style="letter-spacing:-0.032px;left:7.5px">ROC Compliance</span></div></div><div class="td" style="left:391px;width:156px"><div class="tag" style="left:9.3px;width:90.3px"><span style="letter-spacing:0.182px;left:7.5px">File AOC-4</span></div></div><div class="td" style="left:547px;width:79px"><span class="abs num15" style="right:10.4px">60</span></div><div class="td" style="left:626px;width:162px"><div class="tag" style="left:9.2px;width:97.0px"><span style="letter-spacing:0.251px;left:7.5px">Vatsal Patel</span></div></div><div class="td" style="left:788px;width:163px"><div class="tag" style="left:9.2px;width:73.8px"><span style="letter-spacing:0.136px;left:7.5px">Jay Soni</span></div></div><div class="td" style="left:951px;width:119px"><div class="pl p-high" style="left:8.3px;width:99.7px"><span style="letter-spacing:0.114px;">High</span></div></div><div class="td" style="left:1070px;width:135px"><span style="letter-spacing:0.532px;position:absolute;left:8.700000000000045px;">25 Jun, 2025</span></div><div class="td" style="left:1205px;width:135px"><span style="letter-spacing:-0.028px;position:absolute;left:8.200000000000045px">Yearly</span></div><div class="td" style="left:1340px;width:134px"><div class="pl s-comp" style="left:8.8px;width:114.6px"><span style="letter-spacing:0.394px;">Completed</span></div></div><div class="td ttc" style="left:1474px;width:80px"><span class="abs num15" style="right:10.2px">70</span></div><div class="td" style="left:1554px;width:150px"><div class="act" style="left:12.1px;top:12.2px"><svg width="14" height="16" viewBox="0 0 14 16" ><path d="M5.2 0.9 H10 Q13.1 0.9 13.1 4 V12 Q13.1 15.1 10 15.1 H4 Q0.9 15.1 0.9 12 V5.2 Z" fill="none" stroke="#686868" stroke-width="1.75" stroke-linejoin="round"/><path d="M0.9 5.2 L5.2 0.9 V3.6 Q5.2 5.2 3.6 5.2 Z" fill="#686868" stroke="#686868" stroke-width="0.9" stroke-linejoin="round"/><path d="M6.8 7.3 H10 M4.8 11.1 H10" stroke="#686868" stroke-width="1.7" stroke-linecap="round"/></svg></div><div class="act" style="left:45.8px;top:12px"><svg width="17" height="17" viewBox="0 0 17 17" ><path d="M8.5 1.2 A6.9 6.9 0 1 1 5 14.05 L0.9 15.8 L2.5 11.55 A6.9 6.9 0 0 1 8.5 1.2 Z" fill="none" stroke="#686868" stroke-width="1.75" stroke-linejoin="round"/></svg></div><div class="act" style="left:81.0px;top:11.9px"><svg width="17" height="17" viewBox="0 0 17 17" ><path d="M7.6 1.05 H4.2 Q1.05 1.05 1.05 4.2 V12.8 Q1.05 15.95 4.2 15.95 H12 Q15.15 15.95 15.15 12.8 V9.2" fill="none" stroke="#686868" stroke-width="1.75" stroke-linecap="round"/><path d="M12.7 1.3 L15.3 3.9 L9.2 10 L5.7 10.6 L6.5 7.3 Z" fill="none" stroke="#686868" stroke-width="1.7" stroke-linejoin="round"/></svg></div><div class="act" style="left:115.9px;top:12.2px"><svg width="16" height="17" viewBox="0 0 16 17" ><path d="M0.85 3.2 H15.15" stroke="#e1465b" stroke-width="1.7" stroke-linecap="round"/><path d="M5.3 2.8 V1.4 Q5.3 0.2 6.5 0.2 H9.9 Q11.1 0.2 11.1 1.4 V2.8 Z" fill="#e1465b"/><path d="M3.3 5.8 L3.9 13 Q4.1 14.9 6 14.9 H10 Q11.9 14.9 12.1 13 L12.7 5.8" fill="none" stroke="#e1465b" stroke-width="1.9" stroke-linecap="round" stroke-linejoin="round"/></svg></div></div></div>
<div class="tr"><div class="td" style="left:0px;width:80px;border-left:0"><div class="cb"></div><span class="abs" style="left:40px;width:40px;text-align:center">2</span></div><div class="td" style="left:80px;width:156px"><div class="tag" style="left:9.0px;width:108.3px"><span style="letter-spacing:-0.102px;left:7.5px">Goyal Traders</span></div></div><div class="td" style="left:236px;width:155px"><div class="tag" style="left:8.2px;width:140.6px"><span style="letter-spacing:0.21px;left:7.5px">Books Finalization</span></div></div><div class="td" style="left:391px;width:156px"><div class="tag" style="left:9.3px;width:117.3px"><span style="letter-spacing:0.23px;left:7.5px">Match Ledgers</span></div></div><div class="td" style="left:547px;width:79px"><span class="abs num15" style="right:10.4px">30</span></div><div class="td" style="left:626px;width:162px"><div class="tag" style="left:9.2px;width:97.0px"><span style="letter-spacing:0.251px;left:7.5px">Vatsal Patel</span></div></div><div class="td" style="left:788px;width:163px"><div class="tag" style="left:9.2px;width:73.8px"><span style="letter-spacing:0.136px;left:7.5px">Jay Soni</span></div></div><div class="td" style="left:951px;width:119px"><div class="pl p-high" style="left:8.3px;width:99.7px"><span style="letter-spacing:0.114px;">High</span></div></div><div class="td" style="left:1070px;width:135px"><span style="letter-spacing:0.495px;position:absolute;left:8.700000000000045px;">28 Jun, 2025</span></div><div class="td" style="left:1205px;width:135px"><span style="letter-spacing:-0.028px;position:absolute;left:8.200000000000045px">Yearly</span></div><div class="td" style="left:1340px;width:134px"><div class="pl s-proc" style="left:8.8px;width:114.6px"><span style="letter-spacing:0.081px;">In Process</span></div></div><div class="td ttc" style="left:1474px;width:80px"><span class="abs num15" style="right:10.2px">25</span></div><div class="td" style="left:1554px;width:150px"><div class="act" style="left:12.1px;top:12.2px"><svg width="14" height="16" viewBox="0 0 14 16" ><path d="M5.2 0.9 H10 Q13.1 0.9 13.1 4 V12 Q13.1 15.1 10 15.1 H4 Q0.9 15.1 0.9 12 V5.2 Z" fill="none" stroke="#686868" stroke-width="1.75" stroke-linejoin="round"/><path d="M0.9 5.2 L5.2 0.9 V3.6 Q5.2 5.2 3.6 5.2 Z" fill="#686868" stroke="#686868" stroke-width="0.9" stroke-linejoin="round"/><path d="M6.8 7.3 H10 M4.8 11.1 H10" stroke="#686868" stroke-width="1.7" stroke-linecap="round"/></svg></div><div class="act" style="left:45.8px;top:12px"><svg width="17" height="17" viewBox="0 0 17 17" ><path d="M8.5 1.2 A6.9 6.9 0 1 1 5 14.05 L0.9 15.8 L2.5 11.55 A6.9 6.9 0 0 1 8.5 1.2 Z" fill="none" stroke="#686868" stroke-width="1.75" stroke-linejoin="round"/></svg></div><div class="act" style="left:81.0px;top:11.9px"><svg width="17" height="17" viewBox="0 0 17 17" ><path d="M7.6 1.05 H4.2 Q1.05 1.05 1.05 4.2 V12.8 Q1.05 15.95 4.2 15.95 H12 Q15.15 15.95 15.15 12.8 V9.2" fill="none" stroke="#686868" stroke-width="1.75" stroke-linecap="round"/><path d="M12.7 1.3 L15.3 3.9 L9.2 10 L5.7 10.6 L6.5 7.3 Z" fill="none" stroke="#686868" stroke-width="1.7" stroke-linejoin="round"/></svg></div><div class="act" style="left:115.9px;top:12.2px"><svg width="16" height="17" viewBox="0 0 16 17" ><path d="M0.85 3.2 H15.15" stroke="#e1465b" stroke-width="1.7" stroke-linecap="round"/><path d="M5.3 2.8 V1.4 Q5.3 0.2 6.5 0.2 H9.9 Q11.1 0.2 11.1 1.4 V2.8 Z" fill="#e1465b"/><path d="M3.3 5.8 L3.9 13 Q4.1 14.9 6 14.9 H10 Q11.9 14.9 12.1 13 L12.7 5.8" fill="none" stroke="#e1465b" stroke-width="1.9" stroke-linecap="round" stroke-linejoin="round"/></svg></div></div></div>
<div class="tr"><div class="td" style="left:0px;width:80px;border-left:0"><div class="cb"></div><span class="abs" style="left:40px;width:40px;text-align:center">1</span></div><div class="td" style="left:80px;width:156px"><div class="tag" style="left:9.0px;width:110.7px"><span style="letter-spacing:0.029px;left:7.5px">Shree Exports</span></div></div><div class="td" style="left:236px;width:155px"><div class="tag" style="left:8.2px;width:92.6px"><span style="letter-spacing:-0.211px;left:7.5px">TDS Return</span></div></div><div class="td" style="left:391px;width:156px"><div class="tag" style="left:9.3px;width:71.5px"><span style="letter-spacing:-0.268px;left:7.5px">File TDS</span></div></div><div class="td" style="left:547px;width:79px"><span class="abs num15" style="right:10.4px">30</span></div><div class="td" style="left:626px;width:162px"><div class="tag" style="left:9.2px;width:97.0px"><span style="letter-spacing:0.251px;left:7.5px">Vatsal Patel</span></div></div><div class="td" style="left:788px;width:163px"><div class="tag" style="left:9.2px;width:92.9px"><span style="left:7.5px">Sahil Vhora</span></div></div><div class="td" style="left:951px;width:119px"><div class="pl p-low" style="left:8.3px;width:99.7px"><span style="letter-spacing:0.284px;">Low</span></div></div><div class="td" style="left:1070px;width:135px"><span style="letter-spacing:0.595px;position:absolute;left:8.700000000000045px;">30 Jun, 2025</span></div><div class="td" style="left:1205px;width:135px"><span style="letter-spacing:0.277px;position:absolute;left:8.200000000000045px">Quarterly</span></div><div class="td" style="left:1340px;width:134px"><div class="pl s-rev" style="left:8.8px;width:114.6px;text-align:left;top:7px;height:25px;line-height:25px"><span style="letter-spacing:-0.02px;position:absolute;left:11.1px">In Review</span><div class="abs" style="left:87.2px;top:3px;width:20px;height:20px;border-radius:50%;background:#8a5cf5;color:#fff;font-size:12px;line-height:20px;text-align:center;-webkit-text-stroke:0.3px #fff">JS</div></div></div><div class="td ttc" style="left:1474px;width:80px"><span class="abs num15" style="right:10.2px">20</span></div><div class="td" style="left:1554px;width:150px"><div class="act" style="left:12.1px;top:12.2px"><svg width="14" height="16" viewBox="0 0 14 16" ><path d="M5.2 0.9 H10 Q13.1 0.9 13.1 4 V12 Q13.1 15.1 10 15.1 H4 Q0.9 15.1 0.9 12 V5.2 Z" fill="none" stroke="#686868" stroke-width="1.75" stroke-linejoin="round"/><path d="M0.9 5.2 L5.2 0.9 V3.6 Q5.2 5.2 3.6 5.2 Z" fill="#686868" stroke="#686868" stroke-width="0.9" stroke-linejoin="round"/><path d="M6.8 7.3 H10 M4.8 11.1 H10" stroke="#686868" stroke-width="1.7" stroke-linecap="round"/></svg></div><div class="act" style="left:45.8px;top:12px"><svg width="17" height="17" viewBox="0 0 17 17" ><path d="M8.5 1.2 A6.9 6.9 0 1 1 5 14.05 L0.9 15.8 L2.5 11.55 A6.9 6.9 0 0 1 8.5 1.2 Z" fill="none" stroke="#3b7ff0" stroke-width="1.75" stroke-linejoin="round"/></svg></div><div class="abs" style="left:51.7px;top:2px;width:20px;height:20px;border-radius:50%;background:#e5475b;color:#fff;font-size:12px;line-height:20px;text-align:center;box-shadow:0 0 0 1.5px #fff">2</div><div class="act" style="left:81.0px;top:11.9px"><svg width="17" height="17" viewBox="0 0 17 17" ><path d="M7.6 1.05 H4.2 Q1.05 1.05 1.05 4.2 V12.8 Q1.05 15.95 4.2 15.95 H12 Q15.15 15.95 15.15 12.8 V9.2" fill="none" stroke="#686868" stroke-width="1.75" stroke-linecap="round"/><path d="M12.7 1.3 L15.3 3.9 L9.2 10 L5.7 10.6 L6.5 7.3 Z" fill="none" stroke="#686868" stroke-width="1.7" stroke-linejoin="round"/></svg></div><div class="act" style="left:115.9px;top:12.2px"><svg width="16" height="17" viewBox="0 0 16 17" ><path d="M0.85 3.2 H15.15" stroke="#e1465b" stroke-width="1.7" stroke-linecap="round"/><path d="M5.3 2.8 V1.4 Q5.3 0.2 6.5 0.2 H9.9 Q11.1 0.2 11.1 1.4 V2.8 Z" fill="#e1465b"/><path d="M3.3 5.8 L3.9 13 Q4.1 14.9 6 14.9 H10 Q11.9 14.9 12.1 13 L12.7 5.8" fill="none" stroke="#e1465b" stroke-width="1.9" stroke-linecap="round" stroke-linejoin="round"/></svg></div></div></div>
</div>
<div class="tip"><span style="letter-spacing:0.179px;left:7.2px">245 mins (4h 5m)</span></div>
<div class="foot"><div class="abs" style="left:586px;top:0;width:80px;height:38px;background:#e1e1e1"></div><span style="left:89.6px;font-size:12px;letter-spacing:1.2px;color:#6a6a6a;-webkit-text-stroke:0.25px #6a6a6a">COUNT</span><span class="fb" style="left:231px">4</span><span class="fb" style="left:632.4px;letter-spacing:0.2px">245</span><span class="fb" style="left:1560.2px;letter-spacing:0.3px">135</span><svg class="abs" style="left:621px;top:13px" width="22" height="22" viewBox="0 0 22 22"><path d="M5.3 2.4 Q5.2 1.2 6.6 1.1 Q8.3 1 8.7 2.4 L10.2 7.6 Q11.6 6.6 13 7.2 Q14.6 6.6 16 7.6 Q17.8 7.4 19 8.6 Q20.6 10 20.2 12.4 L19 16 L17.6 19 L17.3 20.4 H8.8 L8.2 19.6 Q5 15.6 1.8 11.6 Q1 10.4 2 9.2 Q3.2 8 4.6 9 L6.6 11 Z" fill="#fff" stroke="#111" stroke-width="1.25" stroke-linejoin="round"/><path d="M10.7 12.4 V16.4 M13 12.4 V16.4 M15.3 12.4 V16.4" stroke="#111" stroke-width="1"/></svg></div>
</div>
<div class="topstrip"></div><div class="topblend"></div>
</body></html>
